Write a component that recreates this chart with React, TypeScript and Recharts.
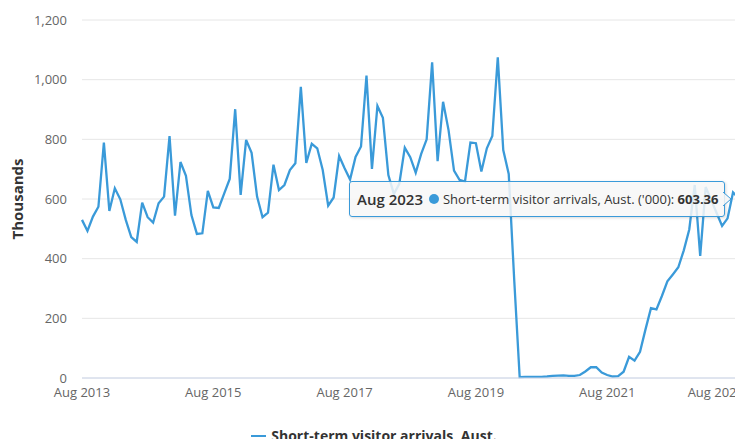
import { LineChart, Line, XAxis, YAxis, CartesianGrid, Tooltip, Legend } from 'recharts';

const font = '"Open Sans", sans-serif';
const lineColor = '#3a9ad9';
const chartWidth = 748;

const monthNames = ['Jan', 'Feb', 'Mar', 'Apr', 'May', 'Jun', 'Jul', 'Aug', 'Sep', 'Oct', 'Nov', 'Dec'];

// short-term visitor arrivals, thousands, Aug 2013 .. Aug 2023
const arrivals = [
  530, 493, 541, 574, 789, 560, 636, 599, 530, 472, 456, 588,
  539, 521, 586, 608, 811, 544, 724, 678, 546, 483, 485, 627,
  572, 570, 619, 667, 901, 614, 798, 755, 608, 539, 554, 715,
  630, 647, 697, 720, 976, 721, 785, 770, 697, 578, 605, 744,
  703, 665, 741, 776, 1014, 701, 912, 872, 680, 617, 651, 772,
  740, 688, 751, 800, 1058, 727, 926, 831, 695, 664, 658, 789,
  787, 692, 770, 811, 1075, 764, 684, 330,
  3, 4, 4, 4, 4, 5, 7, 8, 9, 7, 7, 10, 22, 36, 36, 18,
  10, 5, 6, 21, 71, 58, 88, 163, 234, 230, 275, 324,
  347, 371, 428, 498, 647, 409, 640, 597, 553, 510, 535, 622,
  603.36,
];

const months = arrivals.map((_, i) => {
  const m = 7 + i;
  return `${monthNames[m % 12]} ${2013 + Math.floor(m / 12)}`;
});

const xTicks = ['Aug 2013', 'Aug 2015', 'Aug 2017', 'Aug 2019', 'Aug 2021', 'Aug 2023'];
const yTicks = [0, 200, 400, 600, 800, 1000, 1200];

const seriesName = 'Short-term visitor arrivals, Aust.';

const data = months.map((month, i) => ({ month, value: arrivals[i] }));

// last label gets pulled back inside the chart, like the original does
function MonthTick({ x, y, payload }: any) {
  const last = payload.value === xTicks[xTicks.length - 1];
  return (
    <text
      x={last ? chartWidth - 4 : x}
      y={y}
      dy="0.71em"
      textAnchor={last ? 'end' : 'middle'}
      fill="#666"
      fontSize={13}
      fontFamily={font}
    >
      {payload.value}
    </text>
  );
}

function YLabel({ viewBox }: any) {
  const x = viewBox.x + 17;
  const y = viewBox.y + viewBox.height / 2;
  return (
    <text
      x={x}
      y={y}
      transform={`rotate(-90 ${x} ${y})`}
      textAnchor="middle"
      dominantBaseline="central"
      fill="#333"
      fontSize={15}
      fontWeight={700}
      fontFamily={font}
    >
      Thousands
    </text>
  );
}

function TooltipBox({ active, payload, label }: any) {
  if (!active || !payload || !payload.length) return null;
  const v = Number(payload[0].value);
  return (
    <div
      style={{
        position: 'relative',
        width: 376,
        height: 36,
        boxSizing: 'border-box',
        background: 'rgba(247,247,247,0.85)',
        border: `1px solid ${lineColor}`,
        borderRadius: 3,
        boxShadow: '1px 1px 3px rgba(0,0,0,0.15)',
        display: 'flex',
        alignItems: 'center',
        paddingLeft: 7,
        whiteSpace: 'nowrap',
        fontFamily: font,
        fontSize: 13,
        color: '#333',
      }}
    >
      <span style={{ fontSize: 15, fontWeight: 600 }}>{label}</span>
      <span
        style={{
          display: 'inline-block',
          width: 10,
          height: 10,
          borderRadius: 5,
          background: lineColor,
          margin: '0 4px 0 6px',
        }}
      />
      <span>Short-term visitor arrivals, Aust. ('000):&nbsp;</span>
      <span style={{ fontWeight: 700 }}>{v.toFixed(2)}</span>
      <svg width={10} height={14} style={{ position: 'absolute', right: -9, top: 10 }}>
        <path d="M0 0 L8 7 L0 14" fill="rgba(247,247,247,0.85)" stroke={lineColor} strokeWidth={1} />
      </svg>
    </div>
  );
}

function LegendRow() {
  return (
    <div
      style={{
        display: 'flex',
        justifyContent: 'center',
        alignItems: 'center',
        fontFamily: font,
        fontSize: 14,
        fontWeight: 700,
        color: '#333',
        lineHeight: '20px',
      }}
    >
      <span style={{ display: 'inline-block', width: 15, height: 2, background: lineColor, marginRight: 5 }} />
      {seriesName}
    </div>
  );
}

export default function App() {
  return (
    <div
      style={{
        position: 'fixed',
        left: 0,
        top: 0,
        width: 735,
        height: 439,
        overflow: 'hidden',
        background: '#fff',
      }}
    >
      <LineChart width={chartWidth} height={460} data={data} margin={{ top: 20, right: 9.5, left: 0, bottom: 52 }}>
        <CartesianGrid vertical={false} stroke="#e6e6e6" />
        <XAxis
          dataKey="month"
          ticks={xTicks}
          interval={0}
          tickLine={false}
          tickSize={0}
          tickMargin={10}
          axisLine={{ stroke: '#ccd6eb' }}
          tick={<MonthTick />}
        />
        <YAxis
          width={82}
          domain={[0, 1200]}
          ticks={yTicks}
          axisLine={false}
          tickLine={false}
          tickSize={0}
          tickMargin={15}
          tickFormatter={(v: number) => v.toLocaleString('en-US')}
          tick={{ fill: '#666', fontSize: 13, fontFamily: font }}
          label={<YLabel />}
        />
        <Tooltip
          defaultIndex={arrivals.length - 1}
          active={true}
          cursor={false}
          isAnimationActive={false}
          position={{ x: 349, y: 181 }}
          content={<TooltipBox />}
          wrapperStyle={{ outline: 'none' }}
        />
        <Legend
          verticalAlign="middle"
          align="center"
          wrapperStyle={{ top: 426, left: 0, width: chartWidth }}
          content={<LegendRow />}
        />
        <Line
          type="linear"
          dataKey="value"
          name={seriesName}
          stroke={lineColor}
          strokeWidth={2.3}
          dot={false}
          activeDot={false}
          isAnimationActive={false}
        />
      </LineChart>
    </div>
  );
}
